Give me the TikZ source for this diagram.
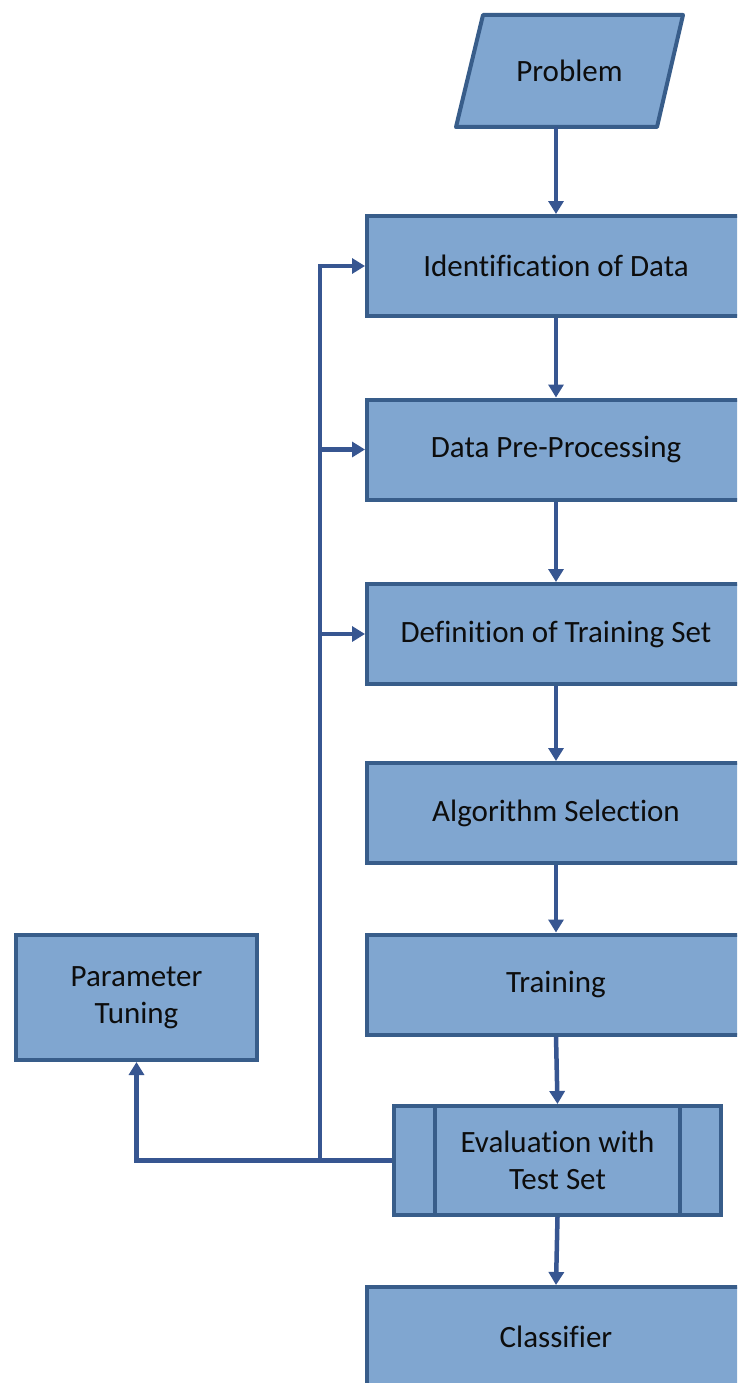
\documentclass[tikz,border=0pt]{standalone}
\usepackage{fontspec}
\setmainfont{Carlito}[Ligatures=NoCommon]
\usetikzlibrary{arrows.meta}
\definecolor{boxfill}{RGB}{128,166,208}
\definecolor{boxline}{RGB}{56,93,138}
\definecolor{arrowc}{RGB}{55,86,145}
\tikzset{
  txt/.style={font=\fontsize{31}{37}\selectfont, text=black!95},
  stepbox/.style={txt, draw=boxline, fill=boxfill, line width=4pt, rectangle, minimum width=378pt, minimum height=100pt, inner sep=0pt, align=center},
  conn/.style={draw=arrowc, line width=4.5pt, -{Triangle[width=15pt,length=13pt]}},
}
\begin{document}
\begin{tikzpicture}[x=1pt,y=-1pt]
\useasboundingbox (0,0) rectangle (737,1383);
\clip (0,0) rectangle (737,1383);
\fill[white] (0,0) rectangle (737,1383);
% Problem parallelogram
\draw[draw=boxline, fill=boxfill, line width=4pt, line join=round] (483,15) -- (683,15) -- (657,127) -- (456,127) -- cycle;
\node[txt] (prob) at (569.5,71) {Problem};
\coordinate (probbot) at (556,127);
% main boxes
\node[stepbox] (id) at (556,266) {Identification of Data};
\node[stepbox] (dpp) at (556,449.5) {Data Pre-Processing};
\node[stepbox] (dts) at (556,634) {Definition of Training Set};
\node[stepbox] (alg) at (556,813) {Algorithm Selection};
\node[stepbox] (tr) at (556,984.5) {Training};
\node[stepbox, minimum width=327pt, minimum height=109pt] (ev) at (557.5,1160.5) {Evaluation with\\Test Set};
\draw[boxline, line width=4pt] (435,1106) -- (435,1215) (680,1106) -- (680,1215);
\node[stepbox] (cl) at (556,1337) {Classifier};
\node[stepbox, minimum width=241pt, minimum height=125pt] (pt) at (136.5,997.5) {Parameter\\Tuning};
% vertical flow
\draw[conn] (probbot) -- (id.north);
\draw[conn] (id.south) -- (dpp.north);
\draw[conn] (dpp.south) -- (dts.north);
\draw[conn] (dts.south) -- (alg.north);
\draw[conn] (alg.south) -- (tr.north);
\draw[conn] (tr.south) -- (ev.north);
\draw[conn] (ev.south) -- (cl.north);
% feedback
\draw[conn] (ev.west) -| (pt.south);
\coordinate (j) at (320,1160.5);
\draw[conn] (j) |- (id.west);
\draw[conn] (320,449.5) -- (dpp.west);
\draw[conn] (320,634) -- (dts.west);
\end{tikzpicture}
\end{document}
